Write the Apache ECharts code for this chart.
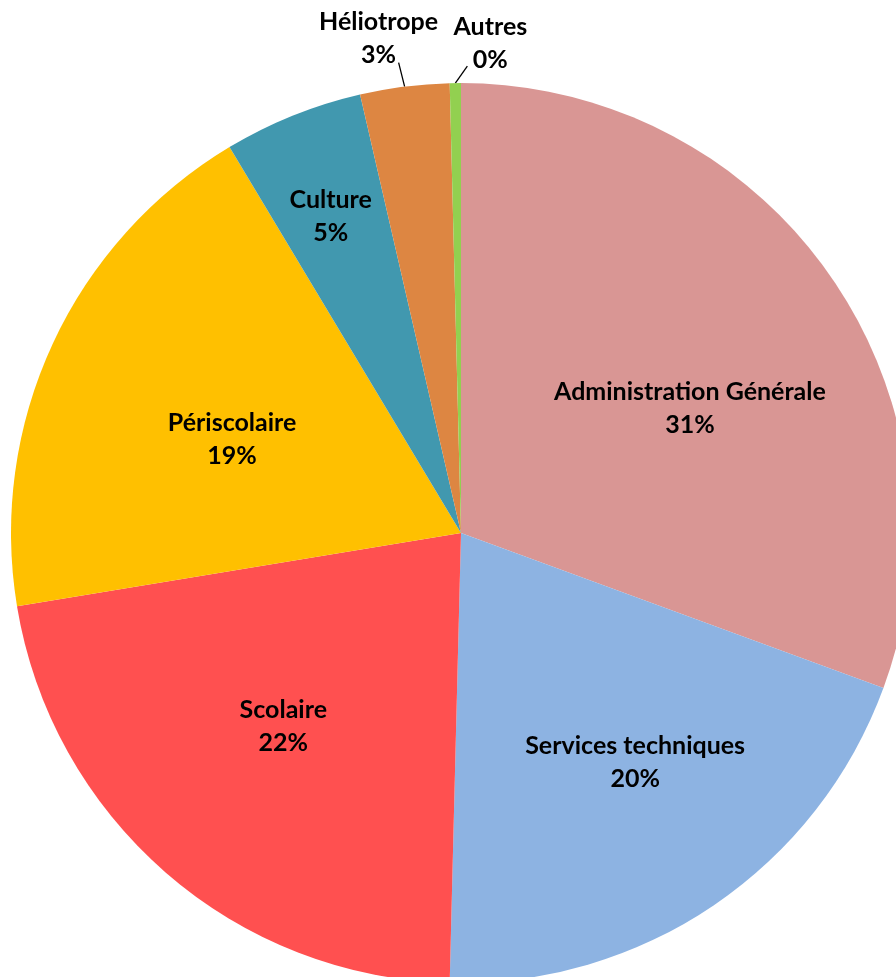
<!DOCTYPE html>
<html>
<head>
<meta charset="utf-8">
<script src="https://cdn.jsdelivr.net/npm/echarts@6/dist/echarts.min.js"></script>
<style>
  html, body { margin: 0; padding: 0; background: #fff; }
  #diagram { width: 896px; height: 977px; }
</style>
</head>
<body>
<div id="diagram"></div>
<script>
// données (parts en %)
var categories = ['Administration Générale', 'Services techniques', 'Scolaire', 'Périscolaire', 'Culture', 'Héliotrope', 'Autres'];
var values = [30.6, 19.8, 22.0, 19.0, 5.0, 3.2, 0.4];
var colors = ['#D99694', '#8DB3E2', '#FF5050', '#FFC000', '#4198AF', '#DD8642', '#92D050'];

// décalages des étiquettes (à la manière d'Excel "ajustement optimal")
var labelShift = [[42, 6], [46, 41], [-28, 21], [-22, 2], [-45, -105], null, null];
var outsideShift = { 5: { label: [-26, -48], line: [-6, -24] }, 6: { label: [35, -40], line: [12, -17] } };

var myChart = echarts.init(document.getElementById('diagram'));

var data = categories.map(function (name, i) {
    var item = { name: name, value: values[i], itemStyle: { color: colors[i] } };
    if (outsideShift[i]) {
        item.label = { position: 'outside' };
        item.labelLine = { show: true, length: 20, length2: 0 };
    }
    return item;
});

var option = {
    animation: false,
    series: [{
        type: 'pie',
        center: [461, 533],
        radius: [0, 450],
        startAngle: 90,
        clockwise: true,
        avoidLabelOverlap: false,
        itemStyle: { borderWidth: 0 },
        label: {
            show: true,
            position: 'inside',
            formatter: function (p) {
                return p.name + '\n' + Math.round(p.percent) + '%';
            },
            color: '#000',
            fontFamily: 'Lato',
            fontWeight: 'bold',
            fontSize: 25,
            lineHeight: 33,
            align: 'center'
        },
        labelLine: { show: false, lineStyle: { color: '#000', width: 1.3 } },
        labelLayout: function (params) {
            var i = params.dataIndex;
            if (outsideShift[i]) {
                var p0 = params.labelLinePoints[0];
                var s = outsideShift[i];
                return {
                    x: p0[0] + s.label[0],
                    y: p0[1] + s.label[1],
                    align: 'center',
                    verticalAlign: 'middle',
                    labelLinePoints: [p0, [p0[0] + s.line[0], p0[1] + s.line[1]], [p0[0] + s.line[0], p0[1] + s.line[1]]]
                };
            }
            return { dx: labelShift[i][0], dy: labelShift[i][1] };
        },
        data: data
    }]
};

myChart.setOption(option);
</script>
</body>
</html>
